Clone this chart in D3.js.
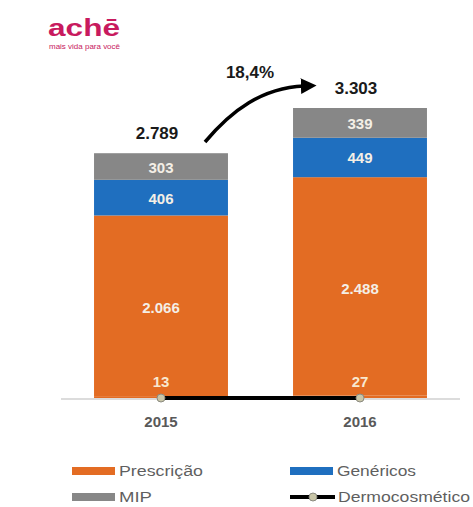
<!DOCTYPE html>
<html>
<head>
<meta charset="utf-8">
<script src="https://cdn.jsdelivr.net/npm/d3@7"></script>
<style>
  body { margin: 0; background: #ffffff; }
  svg { display: block; }
</style>
</head>
<body>
<div id="chart"></div>
<script>

// data
const years = ["2015", "2016"];
const dermocosmetico = [13, 27];
const prescricao = [2066, 2488];
const genericos = [406, 449];
const mip = [303, 339];
const totals = ["2.789", "3.303"];
const growthLabel = "18,4%";
const fmt = ["2.066", "2.488"];

const keys = ["derm", "presc", "gen", "mip"];
const colors = { derm: "#e36c23", presc: "#e36c23", gen: "#1f6fbf", mip: "#878787" };
const legendItems = [
  { name: "Prescrição", key: "presc", type: "bar", len: 84 },
  { name: "Genéricos", key: "gen", type: "bar", len: 79 },
  { name: "MIP", key: "mip", type: "bar", len: 33 },
  { name: "Dermocosmético", key: "derm", type: "line", len: 132 }
];

const W = 473, H = 507;
const font = "Arial, 'Liberation Sans', Helvetica, sans-serif";

const rows = years.map(function (y, i) {
  return { year: y, derm: dermocosmetico[i], presc: prescricao[i], gen: genericos[i], mip: mip[i] };
});

const svg = d3.select("#chart").append("svg")
  .attr("width", W)
  .attr("height", H);

//--------------------------------------
// LOGO
//--------------------------------------

svg.append("text")
  .attr("x", 48).attr("y", 36)
  .attr("font-family", font).attr("font-weight", "bold")
  .attr("font-size", 24)
  .attr("textLength", 72).attr("lengthAdjust", "spacingAndGlyphs")
  .attr("fill", "#c81a5e")
  .text("achē");

svg.append("text")
  .attr("x", 49).attr("y", 48.5)
  .attr("font-family", font)
  .attr("font-size", 7.5)
  .attr("textLength", 71).attr("lengthAdjust", "spacingAndGlyphs")
  .attr("fill", "#c81a5e")
  .text("mais vida para você");

//--------------------------------------
// SCALES
//--------------------------------------

const x = d3.scaleBand()
  .domain(years)
  .range([61, 460])
  .paddingInner(0.327)
  .paddingOuter(0.166);

const y = d3.scaleLinear()
  .domain([0, 3303])
  .range([398, 108]);

const stack = d3.stack().keys(keys);
const series = stack(rows);

// axis line
svg.append("line")
  .attr("x1", 61).attr("x2", 460)
  .attr("y1", y(0) + 1).attr("y2", y(0) + 1)
  .attr("stroke", "#d0d0d0")
  .attr("stroke-width", 1.5);

// bars
svg.append("g").selectAll("g")
  .data(series)
  .enter().append("g")
  .attr("fill", function (d) { return colors[d.key]; })
  .selectAll("rect")
  .data(function (d) { return d; })
  .enter().append("rect")
  .attr("x", function (d) { return x(d.data.year); })
  .attr("y", function (d) { return y(d[1]); })
  .attr("width", x.bandwidth())
  .attr("height", function (d) { return y(d[0]) - y(d[1]); });

// segment labels
const segLabels = [];
series.forEach(function (s) {
  if (s.key === "derm") return;
  s.forEach(function (d, i) {
    let lo = s.key === "presc" ? 0 : d[0];
    let txt = s.key === "presc" ? fmt[i] : String(d.data[s.key]);
    segLabels.push({ year: d.data.year, mid: (y(lo) + y(d[1])) / 2, txt: txt });
  });
});

svg.append("g").selectAll("text")
  .data(segLabels)
  .enter().append("text")
  .attr("x", function (d) { return x(d.year) + x.bandwidth() / 2; })
  .attr("y", function (d) { return d.mid + 6; })
  .attr("text-anchor", "middle")
  .attr("font-family", font).attr("font-weight", "bold")
  .attr("font-size", 15)
  .attr("fill", "#f4efe6")
  .text(function (d) { return d.txt; });

// dermocosmetico line
const line = d3.line()
  .x(function (d) { return x(d.year) + x.bandwidth() / 2; })
  .y(function (d) { return y(0); });

svg.append("path")
  .datum(rows)
  .attr("d", line)
  .attr("fill", "none")
  .attr("stroke", "#000000")
  .attr("stroke-width", 4);

svg.append("g").selectAll("circle")
  .data(rows)
  .enter().append("circle")
  .attr("cx", function (d) { return x(d.year) + x.bandwidth() / 2; })
  .attr("cy", y(0))
  .attr("r", 4)
  .attr("fill", "#c9c6a8")
  .attr("stroke", "#8a8a80")
  .attr("stroke-width", 1);

svg.append("g").selectAll("text")
  .data(rows)
  .enter().append("text")
  .attr("x", function (d) { return x(d.year) + x.bandwidth() / 2; })
  .attr("y", y(0) - 11)
  .attr("text-anchor", "middle")
  .attr("font-family", font).attr("font-weight", "bold")
  .attr("font-size", 15)
  .attr("fill", "#f8e8d0")
  .text(function (d) { return d.derm; });

// totals
svg.append("g").selectAll("text")
  .data(rows)
  .enter().append("text")
  .attr("x", function (d) { return x(d.year) + x.bandwidth() / 2 - 4; })
  .attr("y", function (d) { return y(d.derm + d.presc + d.gen + d.mip) - 14; })
  .attr("text-anchor", "middle")
  .attr("font-family", font).attr("font-weight", "bold")
  .attr("font-size", 17)
  .attr("fill", "#1a1a1a")
  .text(function (d, i) { return totals[i]; });

// category labels
svg.append("g").selectAll("text")
  .data(years)
  .enter().append("text")
  .attr("x", function (d) { return x(d) + x.bandwidth() / 2; })
  .attr("y", 427)
  .attr("text-anchor", "middle")
  .attr("font-family", font).attr("font-weight", "bold")
  .attr("font-size", 15)
  .attr("fill", "#595959")
  .text(function (d) { return d; });

//--------------------------------------
// GROWTH ARROW
//--------------------------------------

const defs = svg.append("defs");
defs.append("marker")
  .attr("id", "arrowHead")
  .attr("viewBox", "0 0 10 10")
  .attr("refX", 2).attr("refY", 5)
  .attr("markerWidth", 4.5).attr("markerHeight", 4.5)
  .attr("orient", "auto")
  .append("path")
  .attr("d", "M0,0 L10,5 L0,10 Z")
  .attr("fill", "#000");

svg.append("path")
  .attr("d", "M205,142 C232,110 262,88 304,86")
  .attr("fill", "none")
  .attr("stroke", "#000")
  .attr("stroke-width", 3.5)
  .attr("marker-end", "url(#arrowHead)");

svg.append("text")
  .attr("x", 250).attr("y", 78)
  .attr("text-anchor", "middle")
  .attr("font-family", font).attr("font-weight", "bold")
  .attr("font-size", 17)
  .attr("fill", "#1a1a1a")
  .text(growthLabel);

//--------------------------------------
// LEGEND
//--------------------------------------

const legend = svg.append("g").selectAll("g")
  .data(legendItems)
  .enter().append("g")
  .attr("transform", function (d, i) {
    return "translate(" + (i % 2 === 0 ? 72 : 290) + "," + (i < 2 ? 471 : 497) + ")";
  });

legend.filter(function (d) { return d.type === "bar"; })
  .append("rect")
  .attr("x", 0).attr("y", -4)
  .attr("width", 43).attr("height", 8)
  .attr("fill", function (d) { return colors[d.key]; });

legend.filter(function (d) { return d.type === "line"; })
  .each(function () {
    let g = d3.select(this);
    g.append("line")
      .attr("x1", 0).attr("x2", 45)
      .attr("y1", 0).attr("y2", 0)
      .attr("stroke", "#000").attr("stroke-width", 4);
    g.append("circle")
      .attr("cx", 23).attr("cy", 0).attr("r", 4)
      .attr("fill", "#c9c6a8")
      .attr("stroke", "#8a8a80");
  });

legend.append("text")
  .attr("x", function (d) { return d.type === "line" ? 48 : 47; })
  .attr("y", 5)
  .attr("font-family", font)
  .attr("font-size", 14)
  .attr("textLength", function (d) { return d.len; })
  .attr("lengthAdjust", "spacingAndGlyphs")
  .attr("fill", "#5f5f5f")
  .text(function (d) { return d.name; });

</script>
</body>
</html>
